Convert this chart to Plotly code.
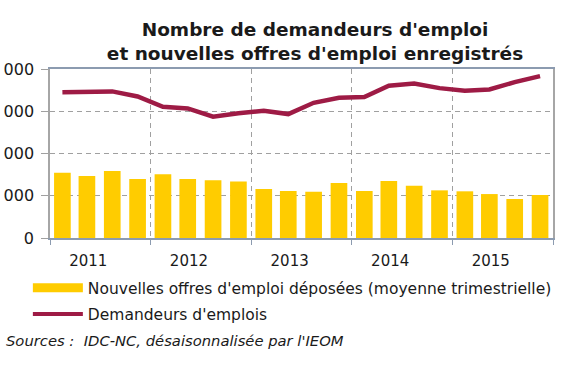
import plotly.graph_objects as go
import pandas as pd

years = [2011, 2012, 2013, 2014, 2015]
quarters = [f"{y}-{m:02d}-15" for y in years for m in (2, 5, 8, 11)]

offres = [3090, 2935, 3170, 2790, 3015, 2790, 2730, 2680, 2320, 2225,
          2190, 2600, 2225, 2700, 2475, 2255, 2210, 2080, 1845, 2035]
demandeurs = [6895, 6905, 6940, 6700, 6210, 6135, 5740, 5900, 6020, 5865,
              6400, 6635, 6670, 7205, 7315, 7095, 6970, 7030, 7380, 7665]

y_tickvals = [0, 2000, 4000, 6000, 8000]
y_ticktext = ["0", "2 000", "4 000", "6 000", "8 000"]

bar_color = "#FFCC00"
line_color = "#9E1B45"
grid_color = "#A0A0A0"
font_family = "DejaVu Sans"

x = pd.to_datetime(quarters)

fig = go.Figure()
fig.add_trace(go.Bar(x=x, y=offres, marker_color=bar_color, marker_line_width=0,
                     showlegend=False, name="Nouvelles offres d'emploi déposées (moyenne trimestrielle)"))
fig.add_trace(go.Scatter(x=x, y=demandeurs, mode="lines",
                         line=dict(color=line_color, width=4.5),
                         showlegend=False, name="Demandeurs d'emplois"))
# legend proxies
fig.add_trace(go.Scatter(x=[None], y=[None], mode="lines", legendgroup="a",
                         line=dict(color=bar_color, width=9),
                         name="Nouvelles offres d'emploi déposées (moyenne trimestrielle)"))
fig.add_trace(go.Scatter(x=[None], y=[None], mode="lines", legendgroup="b",
                         line=dict(color=line_color, width=4),
                         name="Demandeurs d'emplois"))

fig.update_layout(
    width=565, height=377,
    template="none",
    paper_bgcolor="white", plot_bgcolor="white",
    margin=dict(l=50, r=12, t=69, b=139, pad=0),
    bargap=0.32,
    font=dict(family=font_family, color="#1a1a1a", size=15),
    title=dict(text="<b>Nombre de demandeurs d'emploi<br>et nouvelles offres d'emploi enregistrés</b>",
               x=315/565, xanchor="center", y=1 - 36/377, yanchor="top",
               font=dict(size=18.5, family=font_family, color="#1a1a1a")),
    showlegend=True,
    legend=dict(orientation="v", x=-0.044, xanchor="left", y=-0.197, yanchor="top",
                font=dict(size=15.5, family=font_family, color="#1a1a1a"),
                itemwidth=50, tracegroupgap=3, bgcolor="rgba(0,0,0,0)"),
    xaxis=dict(type="date", range=["2011-01-01", "2016-01-01"],
               tick0="2011-01-01", dtick="M12", tickformat="%Y",
               ticklabelmode="period", ticklabelshift=-12, ticklabelstandoff=3,
               ticks="outside", ticklen=5, tickcolor="#8C9BB0",
               showgrid=True, gridcolor=grid_color, griddash="5px,4px", gridwidth=1,
               showline=True, linecolor="#8C9BB0", linewidth=1.5, mirror=True,
               zeroline=False, automargin=False,
               tickfont=dict(size=15, family=font_family, color="#1a1a1a")),
    yaxis=dict(range=[0, 8000], tickvals=y_tickvals, ticktext=y_ticktext,
               ticks="outside", ticklen=7, tickcolor="#A0A0A0", ticklabelstandoff=4,
               showgrid=True, gridcolor=grid_color, griddash="5px,4px", gridwidth=1,
               showline=True, linecolor="#A6A6A6", linewidth=1.5, mirror=True,
               zeroline=False, automargin=False,
               tickfont=dict(size=16, family=font_family, color="#1a1a1a")),
    annotations=[dict(text="<i>Sources :  IDC-NC, désaisonnalisée par l'IEOM</i>",
                      xref="paper", yref="paper", x=-46/503, y=(238-340)/169,
                      xanchor="left", yanchor="middle", showarrow=False,
                      font=dict(size=14.75, family=font_family, color="#1a1a1a"))],
)

fig.write_html("out.html", config={"displayModeBar": False},
               post_script="document.body.style.margin='0px';")
